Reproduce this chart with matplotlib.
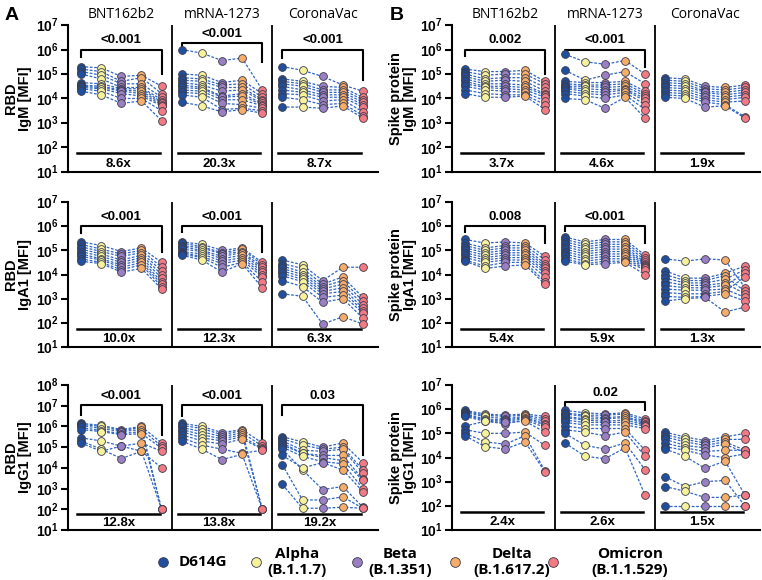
import numpy as np
import matplotlib
matplotlib.use('Agg')
import matplotlib.pyplot as plt
from matplotlib.ticker import FixedLocator, FuncFormatter, NullLocator
from matplotlib.lines import Line2D

plt.rcParams['font.family'] = ['Open Sans', 'DejaVu Sans']
plt.rcParams['mathtext.fontset'] = 'custom'
plt.rcParams['mathtext.rm'] = 'Liberation Sans'
plt.rcParams['mathtext.bf'] = 'Liberation Sans:bold'

# ---- data (log10 MFI); rows = D614G, Alpha, Beta, Delta, Omicron; columns = donors ----
variants = ['D614G', 'Alpha', 'Beta', 'Delta', 'Omicron']
lineages = ['', '(B.1.1.7)', '(B.1.351)', '(B.1.617.2)', '(B.1.1.529)']
vaccines = ['BNT162b2', 'mRNA-1273', 'CoronaVac']
colors = ['#1f4f9e', '#f6f29c', '#9a80c2', '#f5ad69', '#f27a83']

rbd_igm_bnt = [[5.3, 5.2, 5.1, 5.0, 4.65, 4.55, 4.5, 4.45, 4.4, 4.3],
               [5.25, 5.1, 4.95, 4.8, 4.6, 4.5, 4.45, 4.4, 4.3, 4.15],
               [4.9, 4.7, 4.6, 4.45, 4.4, 4.35, 4.3, 4.2, 4.0, 3.8],
               [4.95, 4.85, 4.6, 4.45, 4.4, 4.3, 4.2, 4.1, 4.0, 3.9],
               [4.5, 4.2, 4.05, 3.95, 3.85, 3.8, 3.75, 3.7, 3.5, 3.1]]
rbd_igm_mrna = [[6.0, 5.0, 4.85, 4.75, 4.65, 4.55, 4.45, 4.35, 4.25, 4.15, 3.85],
                [5.85, 4.95, 4.8, 4.7, 4.55, 4.45, 4.4, 4.3, 4.2, 4.05, 3.7],
                [5.55, 4.65, 4.55, 4.45, 4.3, 4.1, 4.05, 3.95, 3.8, 3.55, 3.45],
                [5.65, 4.75, 4.6, 4.45, 4.35, 4.2, 4.1, 3.95, 3.75, 3.6, 3.55],
                [4.35, 4.2, 4.05, 3.95, 3.9, 3.8, 3.75, 3.7, 3.6, 3.5, 3.4]]
rbd_igm_cv = [[5.3, 4.8, 4.7, 4.6, 4.5, 4.35, 4.2, 4.05, 3.65],
              [5.15, 4.7, 4.6, 4.5, 4.35, 4.25, 4.15, 3.95, 3.65],
              [4.9, 4.5, 4.35, 4.25, 4.15, 4.05, 3.9, 3.75, 3.6],
              [4.55, 4.45, 4.35, 4.25, 4.15, 4.05, 3.95, 3.8, 3.7],
              [4.3, 4.05, 3.95, 3.85, 3.75, 3.65, 3.45, 3.3, 3.2]]

rbd_iga_bnt = [[5.35, 5.25, 5.15, 5.05, 4.95, 4.85, 4.75, 4.65, 4.55],
               [5.2, 5.05, 4.95, 4.85, 4.75, 4.65, 4.6, 4.5, 4.45],
               [4.95, 4.85, 4.75, 4.6, 4.5, 4.4, 4.3, 4.2, 4.1],
               [5.1, 5.0, 4.9, 4.8, 4.7, 4.6, 4.5, 4.4, 4.25],
               [4.5, 4.3, 4.15, 4.0, 3.85, 3.7, 3.6, 3.5, 3.4]]
rbd_iga_mrna = [[5.35, 5.3, 5.2, 5.15, 5.05, 4.95, 4.9, 4.85, 4.8],
                [5.25, 5.15, 5.1, 5.0, 4.95, 4.85, 4.75, 4.7, 4.6],
                [5.0, 4.9, 4.85, 4.75, 4.65, 4.55, 4.45, 4.3, 4.1],
                [5.1, 5.05, 4.95, 4.9, 4.8, 4.7, 4.6, 4.5, 4.45],
                [4.5, 4.4, 4.3, 4.2, 4.1, 4.0, 3.9, 3.7, 3.45]]
rbd_iga_cv = [[4.6, 4.45, 4.35, 4.25, 4.15, 4.05, 3.95, 3.75, 3.2],
              [4.4, 4.25, 4.1, 4.0, 3.9, 3.8, 3.7, 3.5, 3.1],
              [3.75, 3.6, 3.5, 3.4, 3.3, 3.2, 3.05, 2.85, 1.95],
              [4.3, 3.9, 3.75, 3.6, 3.45, 3.3, 3.15, 3.0, 2.25],
              [4.3, 3.05, 2.9, 2.75, 2.6, 2.5, 2.4, 2.2, 1.95]]

rbd_igg_bnt = [[6.15, 6.1, 6.05, 5.95, 5.85, 5.45, 5.3, 5.2],
               [6.05, 6.0, 5.9, 5.8, 5.75, 5.3, 4.9, 4.8],
               [5.85, 5.8, 5.75, 5.65, 5.6, 5.05, 4.45, 5.05],
               [6.0, 5.95, 5.85, 5.75, 5.65, 5.2, 4.8, 4.8],
               [5.2, 2.0, 5.05, 2.0, 4.95, 4.8, 4.0, 2.0]]
rbd_igg_mrna = [[6.15, 6.05, 5.95, 5.85, 5.75, 5.6, 5.45, 5.3],
                [6.0, 5.9, 5.75, 5.6, 5.45, 5.3, 5.1, 4.9],
                [5.7, 5.6, 5.5, 5.4, 5.3, 5.15, 4.9, 4.4],
                [5.85, 5.8, 5.7, 5.6, 5.5, 5.4, 4.7, 4.65],
                [5.2, 2.0, 5.05, 2.0, 4.95, 4.9, 4.85, 2.0]]
rbd_igg_cv = [[5.5, 5.4, 5.3, 5.2, 5.1, 5.0, 4.9, 4.6, 4.15, 3.2],
              [5.25, 5.1, 4.85, 4.7, 4.7, 4.55, 3.9, 4.0, 2.45, 2.05],
              [5.0, 4.9, 4.8, 4.6, 4.5, 4.3, 2.95, 4.25, 2.45, 2.05],
              [5.2, 5.0, 4.9, 4.6, 4.35, 4.2, 3.1, 3.9, 2.6, 2.1],
              [4.25, 3.9, 3.75, 3.45, 3.4, 3.0, 2.1, 2.85, 2.05, 2.05]]

spike_igm_bnt = [[5.2, 5.1, 5.0, 4.9, 4.8, 4.7, 4.6, 4.5, 4.35, 4.2],
                 [5.1, 4.95, 4.8, 4.7, 4.6, 4.5, 4.45, 4.35, 4.2, 4.05],
                 [5.1, 5.0, 4.85, 4.75, 4.6, 4.5, 4.4, 4.3, 4.15, 4.05],
                 [5.15, 5.0, 4.85, 4.7, 4.55, 4.45, 4.35, 4.25, 4.15, 4.1],
                 [4.7, 4.6, 4.45, 4.3, 4.2, 4.15, 4.05, 3.9, 3.75, 3.55]]
spike_igm_mrna = [[5.8, 5.15, 4.7, 4.6, 4.5, 4.45, 4.4, 4.3, 4.2, 4.0],
                  [5.5, 4.75, 4.65, 4.55, 4.5, 4.4, 4.3, 4.2, 4.1, 3.95],
                  [5.4, 4.95, 4.65, 4.55, 4.45, 4.35, 4.25, 4.15, 4.0, 3.6],
                  [5.55, 5.1, 4.7, 4.6, 4.5, 4.4, 4.35, 4.25, 4.15, 4.05],
                  [5.0, 4.6, 4.3, 4.2, 4.1, 4.0, 3.9, 3.75, 3.55, 3.2]]
spike_igm_cv = [[4.85, 4.75, 4.65, 4.55, 4.45, 4.35, 4.25, 4.15, 4.05],
                [4.8, 4.7, 4.6, 4.5, 4.4, 4.3, 4.2, 4.1, 4.0],
                [4.5, 4.4, 4.3, 4.25, 4.15, 4.05, 3.95, 3.85, 3.65],
                [4.45, 4.35, 4.25, 4.15, 4.05, 3.95, 3.85, 3.75, 3.7],
                [4.55, 4.45, 4.35, 4.25, 4.15, 4.05, 3.9, 3.25, 3.2]]

spike_iga_bnt = [[5.45, 5.3, 5.2, 5.1, 5.0, 4.9, 4.8, 4.7, 4.6, 4.55],
                 [5.3, 5.1, 5.0, 4.9, 4.8, 4.7, 4.6, 4.5, 4.35, 4.25],
                 [5.35, 5.2, 5.1, 5.0, 4.9, 4.8, 4.7, 4.6, 4.5, 4.35],
                 [5.3, 5.2, 5.1, 5.0, 4.9, 4.8, 4.7, 4.6, 4.5, 4.4],
                 [4.75, 4.6, 4.45, 4.35, 4.25, 4.15, 4.05, 3.9, 3.7, 3.6]]
spike_iga_mrna = [[5.55, 5.45, 5.35, 5.25, 5.15, 5.05, 4.95, 4.85, 4.75, 4.65, 4.55],
                  [5.35, 5.25, 5.15, 5.05, 4.95, 4.85, 4.75, 4.65, 4.55, 4.45, 4.4],
                  [5.45, 5.35, 5.25, 5.15, 5.05, 4.95, 4.85, 4.75, 4.65, 4.55, 4.45],
                  [5.45, 5.35, 5.25, 5.15, 5.05, 4.95, 4.85, 4.75, 4.65, 4.55, 4.5],
                  [4.8, 4.7, 4.6, 4.5, 4.45, 4.4, 4.35, 4.3, 4.25, 4.2, 4.0]]
spike_iga_cv = [[4.65, 4.15, 4.0, 3.85, 3.7, 3.55, 3.4, 3.25, 3.1, 2.9],
                [4.55, 3.85, 3.75, 3.65, 3.55, 3.45, 3.35, 3.2, 3.05, 3.0],
                [4.65, 3.85, 3.75, 3.65, 3.55, 3.45, 3.35, 3.2, 3.1, 3.05],
                [4.6, 4.05, 3.95, 3.8, 3.65, 3.55, 3.4, 3.3, 3.2, 2.45],
                [3.45, 4.35, 3.3, 4.2, 3.2, 4.05, 3.05, 3.9, 2.9, 2.65]]

spike_igg_bnt = [[5.95, 5.9, 5.85, 5.8, 5.75, 5.7, 5.3, 5.15, 5.0, 4.9],
                 [5.8, 5.75, 5.7, 5.6, 5.55, 5.5, 5.5, 5.0, 4.65, 4.45],
                 [5.75, 5.7, 5.6, 5.55, 5.5, 5.4, 5.45, 5.0, 4.55, 4.35],
                 [5.8, 5.75, 5.7, 5.65, 5.6, 5.55, 5.5, 5.05, 4.9, 4.65],
                 [5.7, 5.6, 5.5, 5.4, 5.35, 5.25, 5.05, 4.5, 3.45, 3.4]]
spike_igg_mrna = [[5.95, 5.85, 5.8, 5.7, 5.65, 5.55, 5.45, 5.3, 5.15, 5.0, 4.6],
                  [5.85, 5.75, 5.7, 5.6, 5.55, 5.45, 5.35, 5.2, 5.05, 4.5, 4.05],
                  [5.8, 5.75, 5.65, 5.6, 5.5, 5.45, 5.35, 5.2, 4.9, 4.35, 3.95],
                  [5.85, 5.8, 5.7, 5.65, 5.55, 5.45, 5.35, 5.2, 5.05, 4.6, 4.4],
                  [5.6, 5.5, 5.45, 5.4, 5.35, 5.3, 5.2, 4.3, 4.05, 3.5, 2.45]]
spike_igg_cv = [[5.05, 4.95, 4.85, 4.75, 4.6, 4.45, 4.35, 3.2, 2.8, 2.0],
                [4.85, 4.75, 4.65, 4.5, 4.4, 4.3, 4.05, 2.8, 2.6, 2.0],
                [4.7, 4.6, 4.5, 4.4, 4.25, 4.1, 3.55, 3.0, 2.35, 2.0],
                [4.85, 4.75, 4.65, 4.55, 4.3, 4.0, 3.85, 3.05, 2.35, 2.0],
                [5.0, 4.75, 4.3, 4.2, 4.3, 4.15, 2.45, 2.0, 2.45, 2.0]]

# fold change (D614G vs Omicron) per vaccine
fold_rbd = [['8.6x', '20.3x', '8.7x'], ['10.0x', '12.3x', '6.3x'], ['12.8x', '13.8x', '19.2x']]
fold_spike = [['3.7x', '4.6x', '1.9x'], ['5.4x', '5.9x', '1.3x'], ['2.4x', '2.6x', '1.5x']]
# p-values: (text, bar level, left leg end, right leg end) in log10
p_rbd = [[('<0.001', 6.0, 5.7, 5.0), ('<0.001', 6.25, 6.1, 5.5), ('<0.001', 6.0, 5.65, 4.75)],
         [('<0.001', 6.0, 5.7, 4.95), ('<0.001', 6.0, 5.75, 4.95), None],
         [('<0.001', 7.05, 6.55, 5.6), ('<0.001', 7.05, 6.5, 5.35), ('0.03', 7.05, 6.55, 4.6)]]
p_spike = [[('0.002', 6.0, 5.72, 5.0), ('<0.001', 6.0, 5.85, 5.3), None],
           [('0.008', 6.0, 5.75, 5.3), ('<0.001', 6.0, 5.8, 5.3), None],
           [None, ('0.02', 6.3, 6.1, 5.95), None]]

rbd_rows = [rbd_igm_bnt, rbd_igm_mrna, rbd_igm_cv], [rbd_iga_bnt, rbd_iga_mrna, rbd_iga_cv], [rbd_igg_bnt, rbd_igg_mrna, rbd_igg_cv]
spike_rows = [spike_igm_bnt, spike_igm_mrna, spike_igm_cv], [spike_iga_bnt, spike_iga_mrna, spike_iga_cv], [spike_igg_bnt, spike_igg_mrna, spike_igg_cv]
isotypes = ['IgM [MFI]', 'IgA1 [MFI]', 'IgG1 [MFI]']

# ---- layout ----
W, H = 762, 580
fig = plt.figure(figsize=(W / 100, H / 100), dpi=100)
GW = 5.0  # x units per vaccine group
row_px = [(25, 172), (202, 347), (385, 530)]
BOLD = ['Liberation Sans', 'DejaVu Sans']


def add_px_axes(left, top, right, bottom):
    return fig.add_axes([left / W, 1 - bottom / H, (right - left) / W, (bottom - top) / H])


def draw_row(ax, groups, ytop, folds, pvals, title_row):
    ax.set_yscale('log')
    ax.set_ylim(10, 10.0 ** ytop)
    ax.set_xlim(-0.65, 2 * GW + 4.75)
    for g, data in enumerate(groups):
        arr = 10.0 ** np.array(data)
        xs = g * GW + np.arange(5)
        for d in range(arr.shape[1]):
            ax.plot(xs, arr[:, d], ls=(0, (2.2, 1.3)), color='#2f66c4', lw=0.9, zorder=2)
        for v in range(5):
            ax.plot(np.full(arr.shape[1], xs[v]), arr[v], 'o', ms=5.6, mfc=colors[v],
                    mec='#3a3a4a', mew=0.6, zorder=3, ls='none')
        # fold change line + text
        ax.plot([xs[0] - 0.2, xs[0] + 3.9], [10 ** 1.76] * 2, color='black', lw=1.8, zorder=1)
        ax.text(xs[0] + 1.85, 10 ** 1.33, folds[g], ha='center', va='center',
                fontsize=9.5, fontweight='bold', family=BOLD)
        pv = pvals[g]
        if pv is not None:
            txt, bar, lft, rgt = pv
            ax.plot([xs[0], xs[0], xs[4], xs[4]],
                    [10 ** lft, 10 ** bar, 10 ** bar, 10 ** rgt], color='black', lw=1.5, zorder=1)
            ax.text(xs[2], 10 ** (bar + 0.38 * ytop / 7), txt, ha='center', va='center',
                    fontsize=9.5, fontweight='bold', family=BOLD)
        if g > 0:
            ax.axvline(g * GW - 0.5, color='black', lw=1.3)
        if title_row:
            ax.text(xs[2], 1.07, vaccines[g], transform=ax.get_xaxis_transform(),
                    ha='center', va='center', fontsize=10)
    for s in ['top', 'right']:
        ax.spines[s].set_visible(False)
    for s in ['left', 'bottom']:
        ax.spines[s].set_linewidth(1.5)
    ax.set_xticks([])
    ax.yaxis.set_major_locator(FixedLocator([10.0 ** k for k in range(1, ytop + 1)]))
    ax.yaxis.set_minor_locator(NullLocator())
    ax.yaxis.set_major_formatter(FuncFormatter(lambda v, p: r'$\mathbf{10^{%d}}$' % round(np.log10(v))))
    ax.tick_params(axis='y', length=5, width=1.5, pad=1.5, labelsize=10)


for panel, (rows, folds, pvals, left, right, target, letter_x) in enumerate([
        (rbd_rows, fold_rbd, p_rbd, 68, 378, 'RBD', 12),
        (spike_rows, fold_spike, p_spike, 452, 760, 'Spike protein', 397)]):
    for r, (top, bottom) in enumerate(row_px):
        ax = add_px_axes(left, top, right, bottom)
        ytop = 8 if (panel == 0 and r == 2) else 7
        draw_row(ax, rows[r], ytop, folds[r], pvals[r], r == 0)
        ylab_x = 18 if panel == 0 else 403
        fig.text(ylab_x / W, 1 - (top + bottom) / 2 / H, target + '\n' + isotypes[r],
                 rotation=90, ha='center', va='center', ma='center',
                 fontsize=10.5, fontweight='bold', family=BOLD, linespacing=1.05)
    fig.text(letter_x / W, 1 - 15 / H, 'A' if panel == 0 else 'B', ha='center', va='center',
             fontsize=14, fontweight='bold', family=BOLD)

# ---- legend ----
leg_marker_x = [163, 256, 357, 455, 553]
leg_text_x = [203, 297, 400, 512, 630]
for i in range(5):
    fig.add_artist(Line2D([leg_marker_x[i] / W], [1 - 562 / H], marker='o', ms=7,
                          mfc=colors[i], mec='#3a3a4a', mew=0.6, ls='none',
                          transform=fig.transFigure))
    label = variants[i] if not lineages[i] else variants[i] + '\n' + lineages[i]
    fig.text(leg_text_x[i] / W, 1 - 562 / H, label, ha='center', va='center', ma='center',
             fontsize=11, fontweight='bold', linespacing=1.15)

fig.savefig('out.png', dpi=100)
